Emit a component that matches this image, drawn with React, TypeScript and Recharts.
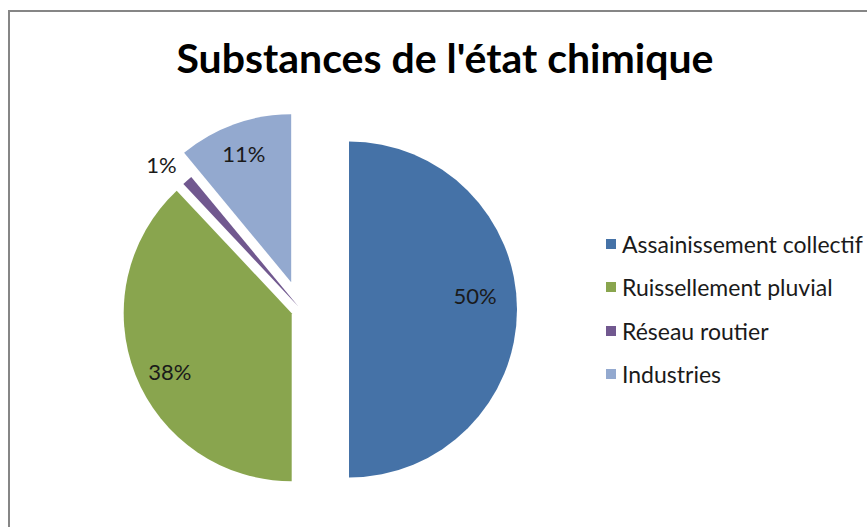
import { PieChart, Pie, Cell, Legend, Sector } from "recharts";

const TITLE = "Substances de l'état chimique";
const CATEGORIES = [
  "Assainissement collectif",
  "Ruissellement pluvial",
  "Réseau routier",
  "Industries",
];
const VALUES = [50, 38, 1, 11];

const COLORS = ["#4572A7", "#89A54E", "#71588F", "#93A9CF"];
// how far each slice is pulled out of the pie, in px
const EXPLODE = [48, 10, 4, 29];
// small tweaks so labels sit where Excel's "best fit" put them
const LABEL_NUDGE = [
  [-5, -14],
  [0, 10],
  [-6, 7],
  [-3, -5],
];

const FONT = "Lato, 'Open Sans', sans-serif";
const RADIAN = Math.PI / 180;

const data = CATEGORIES.map((name, i) => ({ name, value: VALUES[i] }));

function polar(angle: number, dist: number) {
  return [dist * Math.cos(-angle * RADIAN), dist * Math.sin(-angle * RADIAN)];
}

function ExplodedSector(props: any) {
  const i = CATEGORIES.indexOf(props.name);
  const [dx, dy] = polar(props.midAngle, EXPLODE[i] ?? 0);
  return <Sector {...props} cx={props.cx + dx} cy={props.cy + dy} />;
}

function renderLabel(props: any) {
  const { cx, cy, midAngle, outerRadius, percent, name } = props;
  const i = CATEGORIES.indexOf(name);
  const [dx, dy] = polar(midAngle, EXPLODE[i] ?? 0);
  const r = percent < 0.05 ? outerRadius + 30 : outerRadius * 0.78;
  const [lx, ly] = polar(midAngle, r);
  const [nx, ny] = LABEL_NUDGE[i] ?? [0, 0];
  return (
    <text
      x={cx + dx + lx + nx}
      y={cy + dy + ly + ny}
      textAnchor="middle"
      dominantBaseline="central"
      fill="#1a1a1a"
      fontSize={22}
      fontFamily={FONT}
    >
      {`${Math.round(percent * 100)}%`}
    </text>
  );
}

function LegendList({ payload }: any) {
  const items = [...(payload || [])].sort(
    (a: any, b: any) => CATEGORIES.indexOf(a.value) - CATEGORIES.indexOf(b.value)
  );
  return (
    <div style={{ fontFamily: FONT, fontSize: 23, color: "#1a1a1a" }}>
      {items.map((entry: any) => (
        <div
          key={entry.value}
          style={{ display: "flex", alignItems: "center", height: 43.5 }}
        >
          <span
            style={{
              width: 10,
              height: 10,
              background: entry.color,
              marginRight: 6,
              flexShrink: 0,
            }}
          />
          {entry.value}
        </div>
      ))}
    </div>
  );
}

export default function App() {
  return (
    <div
      style={{
        position: "absolute",
        left: 0,
        top: 0,
        width: 867,
        height: 527,
        overflow: "hidden",
        background: "#fff",
      }}
    >
      <div
        style={{
          position: "absolute",
          left: 8,
          top: 10,
          width: 900,
          height: 600,
          border: "2px solid #868686",
        }}
      />
      <div
        style={{
          position: "absolute",
          left: 445,
          top: 37,
          transform: "translateX(-50%)",
          whiteSpace: "nowrap",
          fontFamily: FONT,
          fontWeight: 700,
          fontSize: 41,
          lineHeight: "41px",
          color: "#000",
        }}
      >
        {TITLE}
      </div>
      <div style={{ position: "absolute", left: 0, top: 0 }}>
        <PieChart
          width={867}
          height={527}
          margin={{ top: 0, right: 0, bottom: 0, left: 0 }}
        >
          <Pie
            data={data}
            dataKey="value"
            nameKey="name"
            cx={301}
            cy={309.5}
            outerRadius={168}
            startAngle={90}
            endAngle={-270}
            stroke="none"
            shape={ExplodedSector}
            activeShape={ExplodedSector}
            inactiveShape={ExplodedSector}
            label={renderLabel}
            labelLine={false}
            isAnimationActive={false}
          >
            {data.map((item, index) => (
              <Cell key={item.name} fill={COLORS[index]} />
            ))}
          </Pie>
          <Legend
            layout="vertical"
            align="right"
            verticalAlign="top"
            wrapperStyle={{ left: 606, top: 222, width: 260 }}
            content={LegendList}
          />
        </PieChart>
      </div>
    </div>
  );
}
